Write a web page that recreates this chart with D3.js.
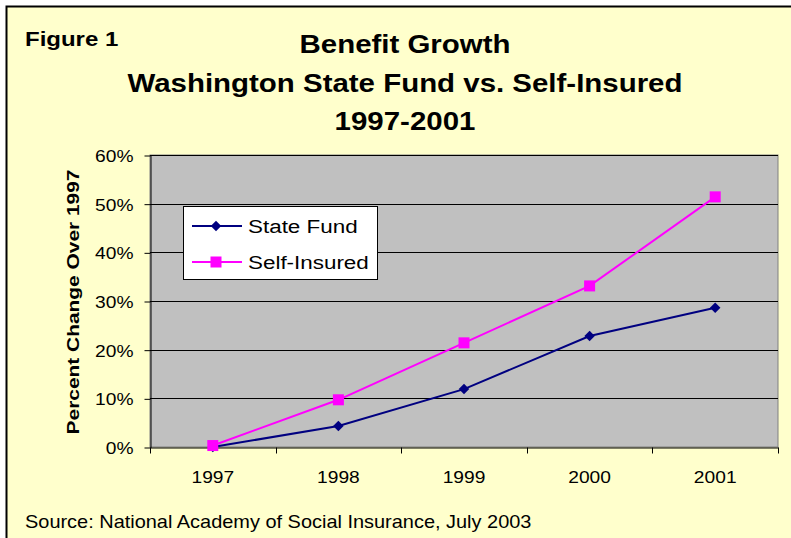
<!DOCTYPE html>
<html lang="en">
<head>
<meta charset="utf-8">
<title>Benefit Growth</title>
<script src="https://d3js.org/d3.v7.min.js"></script>
<style>
  body{margin:0;background:#fff;font-family:"Liberation Sans",Arial,sans-serif;}
  svg text{font-family:"Liberation Sans",Arial,sans-serif;fill:#000;}
</style>
</head>
<body>
<div id="chart"></div>
<script>
// data
var years = ["1997","1998","1999","2000","2001"]
var stateFund = [0, 4.3, 11.9, 22.8, 28.6]
var selfInsured = [0.3, 9.7, 21.4, 33.1, 51.4]
var yTicks = [0, 10, 20, 30, 40, 50, 60]

var w = 791, h = 538
var plot = {left:150, right:778, top:155, bottom:447}
var sx = 1.13 // the original figure is a bit wider than tall text

var svg = d3.select("#chart").append("svg")
    .attr("width", w).attr("height", h)

// text placed at (x,y), stretched horizontally
function label(parent, x, y, str, size, bold, anchor, stretch){
  return parent.append("text")
    .attr("transform", "translate(" + x + "," + y + ") scale(" + (stretch || sx) + ",1)")
    .attr("font-size", size)
    .attr("font-weight", bold ? "bold" : "normal")
    .attr("text-anchor", anchor || "start")
    .text(str)
}

// page background with frame
svg.append("rect").attr("x", 6.5).attr("y", 6.5)
    .attr("width", w + 10).attr("height", h + 10)
    .attr("fill", "#ffffcc").attr("stroke", "#000").attr("stroke-width", 2)

label(svg, 25, 46, "Figure 1", 20, true, "start", 1.2)

var titles = ["Benefit Growth", "Washington State Fund vs. Self-Insured", "1997-2001"]
titles.forEach(function(t, i){
  label(svg, 405, 53 + i * 38.7, t, 25.5, true, "middle", 1.155)
})

var x = d3.scaleBand().domain(years).range([plot.left, plot.right])
var y = d3.scaleLinear().domain([0, 60]).range([plot.bottom, plot.top])

// plot area
svg.append("rect").attr("x", plot.left).attr("y", plot.top)
    .attr("width", plot.right - plot.left).attr("height", plot.bottom - plot.top)
    .attr("fill", "#c0c0c0").attr("stroke", "#808080")

// gridlines
svg.selectAll(".grid").data(yTicks.slice(1)).enter().append("line")
    .attr("x1", plot.left).attr("x2", plot.right)
    .attr("y1", function(d){ return Math.round(y(d)) + 0.5 })
    .attr("y2", function(d){ return Math.round(y(d)) + 0.5 })
    .attr("stroke", "#000")

// y axis
var yAxis = svg.append("g").attr("transform", "translate(" + (plot.left + 0.5) + ",0.5)")
    .call(d3.axisLeft(y).tickValues(yTicks).tickSize(6).tickSizeOuter(0)
        .tickFormat(function(d){ return d + "%" }))
yAxis.selectAll("text")
    .attr("font-size", 17).attr("x", null).attr("dy", "0.35em")
    .attr("transform", "translate(-17,0) scale(" + sx + ",1)")
yAxis.select(".domain").attr("stroke", "#000")

// x axis
var xAxis = svg.append("g").attr("transform", "translate(0," + (plot.bottom + 0.5) + ")")
    .call(d3.axisBottom(x).tickSize(0).tickSizeOuter(0))
xAxis.selectAll("text")
    .attr("font-size", 17).attr("y", null).attr("dy", null)
    .attr("transform", "translate(0,35) scale(" + sx + ",1)")
xAxis.select(".domain").attr("stroke", "#000")
// category separator ticks
var bounds = years.map(function(d){ return x(d) }).concat([plot.right])
xAxis.selectAll(".sep").data(bounds).enter().append("line")
    .attr("x1", function(d){ return Math.round(d) + 0.5 })
    .attr("x2", function(d){ return Math.round(d) + 0.5 })
    .attr("y1", 0).attr("y2", 6).attr("stroke", "#000")

svg.append("text")
    .attr("transform", "translate(79,302) rotate(-90) scale(1.23,1)")
    .attr("text-anchor", "middle").attr("font-size", 17).attr("font-weight", "bold")
    .text("Percent Change Over 1997")

var cx = function(d, i){ return x(years[i]) + x.bandwidth() / 2 }
var line = d3.line().x(cx).y(function(d){ return y(d) })

// self-insured
svg.append("path").datum(selfInsured).attr("d", line)
    .attr("fill", "none").attr("stroke", "#ff00ff").attr("stroke-width", 2)
// state fund
svg.append("path").datum(stateFund).attr("d", line)
    .attr("fill", "none").attr("stroke", "#000080").attr("stroke-width", 2)

svg.selectAll(".sf").data(stateFund).enter().append("path")
    .attr("class", "sf")
    .attr("d", d3.symbol().type(d3.symbolDiamond2).size(70))
    .attr("transform", function(d, i){ return "translate(" + cx(d, i) + "," + y(d) + ")" })
    .attr("fill", "#000080")

svg.selectAll(".si").data(selfInsured).enter().append("rect")
    .attr("class", "si")
    .attr("x", function(d, i){ return cx(d, i) - 5.5 })
    .attr("y", function(d){ return y(d) - 5.5 })
    .attr("width", 11).attr("height", 11)
    .attr("fill", "#ff00ff")

// legend
var lg = svg.append("g").attr("transform", "translate(183,206)")
lg.append("rect").attr("x", 0.5).attr("y", 0.5).attr("width", 194).attr("height", 73)
    .attr("fill", "#fff").attr("stroke", "#000")
var items = [
  {name:"State Fund", color:"#000080", shape:"diamond"},
  {name:"Self-Insured", color:"#ff00ff", shape:"square"}
]
items.forEach(function(it, i){
  var yy = 20 + i * 36
  lg.append("line").attr("x1", 9).attr("x2", 59).attr("y1", yy).attr("y2", yy)
    .attr("stroke", it.color).attr("stroke-width", 2)
  if(it.shape == "diamond"){
    lg.append("path").attr("d", d3.symbol().type(d3.symbolDiamond2).size(70))
      .attr("transform", "translate(33," + yy + ")").attr("fill", it.color)
  }else{
    lg.append("rect").attr("x", 27.5).attr("y", yy - 5.5).attr("width", 11).attr("height", 11)
      .attr("fill", it.color)
  }
  label(lg, 65, yy + 7, it.name, 19, false, "start", 1.18)
})

label(svg, 25, 528, "Source: National Academy of Social Insurance, July 2003", 17.5, false, "start", 1.14)
</script>
</body>
</html>
